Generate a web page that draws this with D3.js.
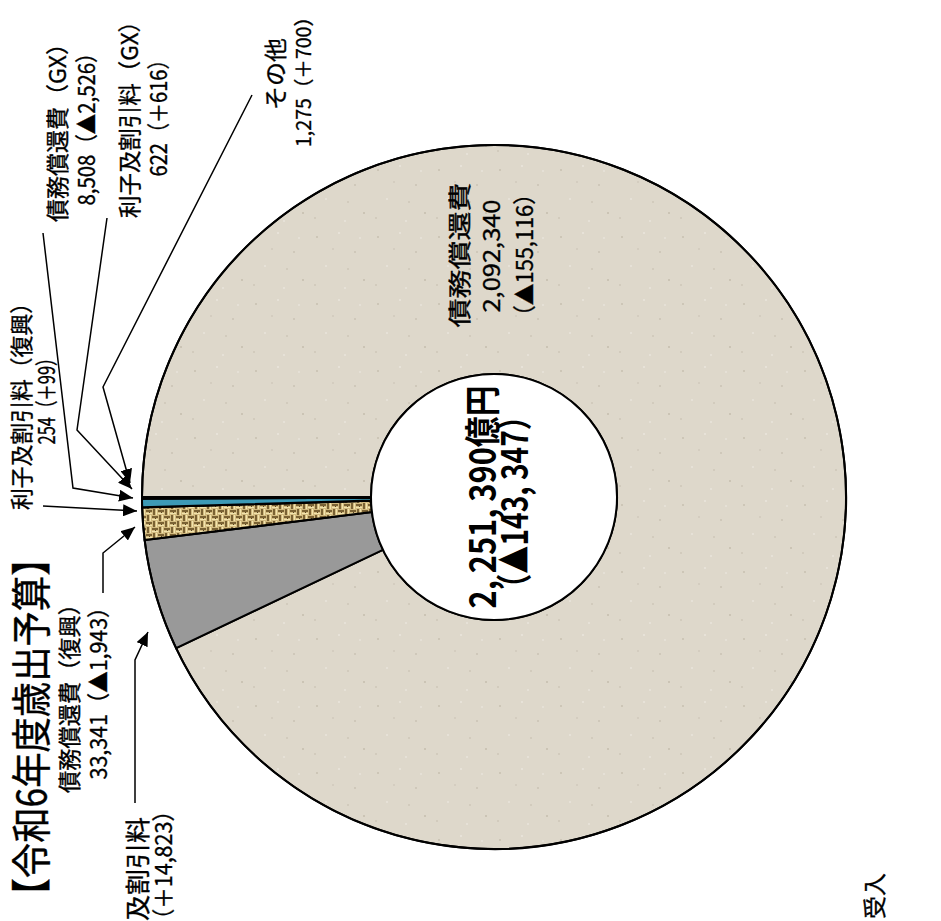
<!DOCTYPE html>
<html><head><meta charset="utf-8">
<script src="https://cdn.jsdelivr.net/npm/d3@7"></script>
<style>html,body{margin:0;padding:0;background:#fff;}svg{display:block;}</style>
</head><body>
<script>
// ---- data ----
const categories = ["債務償還費","利子及割引料","債務償還費(復興)","利子及割引料(復興)","債務償還費(GX)","利子及割引料(GX)","その他"];
const values  = [2092340, 115050, 33341, 254, 8508, 622, 1275];
const changes = [-155116, 14823, -1943, 99, -2526, 616, 700];
const titleText = "【令和6年度歳出予算】";
const totalUnit = "億円";
const footText = "受入";

// ---- layout / style (not data) ----
const W = 941, H = 921;
const cx = 494, cy = 497, rOuter = 352, rInner = 123;
const fills = ["url(#speck)", "#999999", "url(#weave)", "#111", "#3d9ab6", "#111", "#111"];
// label line placements: [centerX, centerY, length, anchor, size]
const labelLayout = {
  "債務償還費":        {lines:[[458,255,145],[490,256,113],[523,255,144]], three:true},
  "利子及割引料":      {lines:[[136,817,156,"end",25],[162,800,208,"end"]]},
  "債務償還費(復興)":  {lines:[[68,693,200],[97,688,183]]},
  "利子及割引料(復興)":{lines:[[20,401,218],[45,397,95]]},
  "債務償還費(GX)":    {lines:[[56,127,190],[85,124,163]]},
  "利子及割引料(GX)":  {lines:[[128,114,208],[157,113,127]]},
  "その他":            {lines:[[274,74,72],[302,77,140,null,20]]}
};
const leaders = {
  "その他":            [[252,95],[103,387],[130,483]],
  "利子及割引料(GX)":  [[107,218],[77,430],[132,489]],
  "債務償還費(GX)":    [[43,233],[73,488],[133,498]],
  "利子及割引料(復興)":[[43,506],[137,511]],
  "債務償還費(復興)":  [[103,593],[103,553],[135,527]],
  "利子及割引料":      [[135,803],[135,660],[148,632]]
};

const fmt = d3.format(",");
const fw = s => s.replace(/\(/g,"（").replace(/\)/g,"）");
const chg = v => (v < 0 ? "▲" : "＋") + fmt(Math.abs(v));

const svg = d3.select("body").append("svg").attr("width", W).attr("height", H);
const defs = svg.append("defs");
// woven texture for the 復興 slice
const pat = defs.append("pattern").attr("id","weave").attr("patternUnits","userSpaceOnUse")
  .attr("width",12).attr("height",12);
pat.append("rect").attr("width",12).attr("height",12).attr("fill","#d3bb80");
[[0,1,6,2,"#7a6234"],[7,0,2,6,"#7a6234"],[6,7,6,2,"#7a6234"],[1,6,2,6,"#7a6234"],
 [0,4,6,1,"#f2e4ae"],[10,0,1,6,"#f2e4ae"],[6,10,6,1,"#f2e4ae"],[4,6,1,6,"#f2e4ae"],
 [3,3,1,1,"#5a4524"],[9,9,1,1,"#5a4524"]]
 .forEach(r => pat.append("rect").attr("x",r[0]).attr("y",r[1]).attr("width",r[2]).attr("height",r[3]).attr("fill",r[4]));
// speckle texture for the main slice
const sp = defs.append("pattern").attr("id","speck").attr("patternUnits","userSpaceOnUse")
  .attr("width",61).attr("height",67);
sp.append("rect").attr("width",61).attr("height",67).attr("fill","#ded8cb");
[[5,7,"#cdc6b7"],[27,3,"#e7e2d8"],[43,22,"#cfc8ba"],[14,36,"#e6e1d7"],[52,50,"#cbc4b5"],
 [33,58,"#e6e1d7"],[3,55,"#d2cbbd"],[21,19,"#d4cdc0"],[48,8,"#e5e0d6"],[36,39,"#d2cbbd"]]
 .forEach(p => sp.append("rect").attr("x",p[0]).attr("y",p[1]).attr("width",2).attr("height",2).attr("fill",p[2]));
const mk = defs.append("marker").attr("id","arr").attr("markerUnits","userSpaceOnUse")
  .attr("markerWidth",15).attr("markerHeight",12).attr("refX",14).attr("refY",6).attr("orient","auto");
mk.append("path").attr("d","M0,0 L14,6 L0,12 Z").attr("fill","#000");

const data = categories.map((c,i)=>({cat:c, value:values[i], change:changes[i], fill:fills[i]}));
const pie = d3.pie().sort(null).value(d=>d.value).startAngle(-Math.PI/2).endAngle(3*Math.PI/2);
const arc = d3.arc().innerRadius(rInner).outerRadius(rOuter);
const g = svg.append("g").attr("transform",`translate(${cx},${cy})`);
g.selectAll("path.slice").data(pie(data)).join("path").attr("class","slice")
  .attr("d", arc).attr("fill", d=>d.data.fill).attr("stroke","#000").attr("stroke-width",2);
g.append("circle").attr("r", rOuter).attr("fill","none").attr("stroke","#000").attr("stroke-width",2);
g.append("circle").attr("r", rInner).attr("fill","#fff").attr("stroke","#000").attr("stroke-width",2);

const font = "'Noto Sans CJK JP', sans-serif";
function vtext(x, y, txt, size, len, anchor, weight, strokeW){
  const t = svg.append("text").attr("transform",`translate(${x},${y}) rotate(-90)`)
    .attr("text-anchor", anchor || "middle").attr("dominant-baseline","central")
    .attr("font-family", font).attr("font-size", size).attr("font-weight", weight||400)
    .attr("fill","#000").text(txt);
  if (strokeW) t.attr("stroke","#000").attr("stroke-width",strokeW);
  if (len) t.attr("textLength", len).attr("lengthAdjust","spacingAndGlyphs");
  return t;
}
// labels
data.forEach(d=>{
  const L = labelLayout[d.cat];
  const texts = L.three ? [d.cat, fmt(d.value), fw("(" + chg(d.change) + ")")]
                        : [fw(d.cat), fw(fmt(d.value) + "(" + chg(d.change) + ")")];
  L.lines.forEach((ln,i)=> vtext(ln[0], ln[1], texts[i], ln[4] || 23, ln[2], ln[3], 400, 0.35));
});
// leader lines
const line = d3.line();
Object.entries(leaders).forEach(([k,pts])=>{
  svg.append("path").attr("d", line(pts)).attr("fill","none").attr("stroke","#000")
    .attr("stroke-width",1.5).attr("marker-end","url(#arr)");
});
// center total
const total = d3.sum(values), totalChg = d3.sum(changes);
const spComma = s => s.replace(/,/g,", ");
vtext(480, 497, spComma(fmt(total)) + totalUnit, 36, 223, "middle", 700);
vtext(512, 502, "（" + spComma(chg(totalChg)) + "）", 36, 200, "middle", 700);
// title
vtext(29, 727, titleText, 40, 373, "middle", 400, 0.4);
// partial footer text
vtext(873, 873, footText, 23, 0, "end", 400, 0.35);
</script>
</body></html>
